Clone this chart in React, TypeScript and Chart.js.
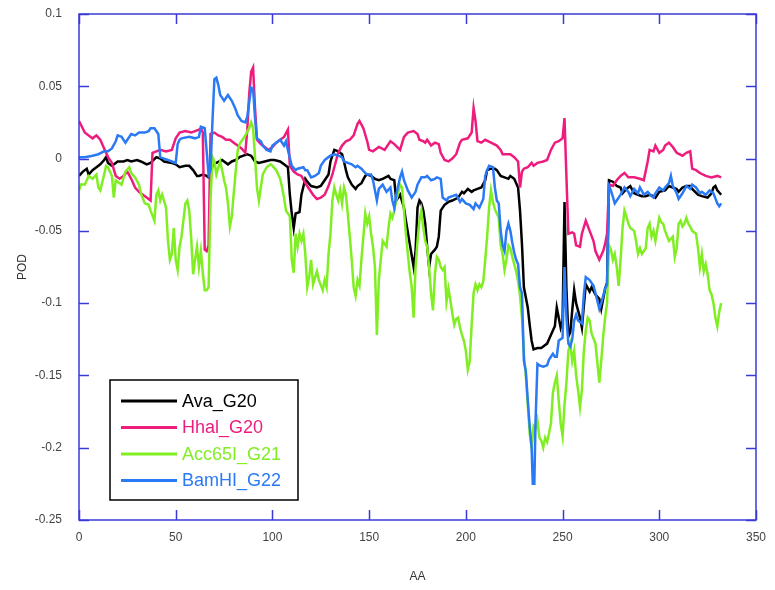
import { useEffect, useRef } from 'react';
import { Chart, registerables } from 'chart.js';

Chart.register(...registerables);

// ---------- data ----------
const X_TICKS = [0, 50, 100, 150, 200, 250, 300, 350];
const Y_TICKS = [0.1, 0.05, 0, -0.05, -0.1, -0.15, -0.2, -0.25];
const X_TITLE = 'AA';
const Y_TITLE = 'POD';

const SERIES_NAMES = ['Ava_G20', 'Hhal_G20', 'Acc65I_G21', 'BamHI_G22'];
const SERIES_COLORS = ['#000000', '#ee1d7d', '#80ee22', '#2a7af5'];

const avaG20: [number, number][] = [
  [0,-0.012],[2,-0.009],[4,-0.007],[5,-0.011],[7,-0.008],[9,-0.006],[11,-0.004],[13,-0.001],[14,0.001],[15,-0.003],
  [17,-0.005],[19,-0.003],[20,-0.002],[23,-0.002],[25,-0.001],[27,-0.002],[30,-0.001],[32,-0.002],[35,-0.004],[37,-0.003],
  [40,0.001],[42,0],[44,-0.002],[48,-0.003],[50,-0.004],[52,-0.006],[55,-0.005],[57,-0.005],[59,-0.008],[61,-0.012],
  [62,-0.012],[64,-0.011],[66,-0.012],[68,-0.014],[69,-0.004],[71,-0.003],[74,-0.001],[75,-0.002],[77,-0.004],[79,-0.002],
  [81,-0.001],[83,0.001],[85,0.002],[87,0.003],[89,0.002],[91,-0.002],[93,-0.003],[96,-0.002],[99,-0.001],[101,-0.001],
  [104,-0.002],[106,-0.004],[108,-0.006],[109,-0.025],[110,-0.038],[111,-0.048],[112,-0.038],[114,-0.037],[115,-0.025],[117,-0.014],
  [118,-0.016],[120,-0.019],[123,-0.02],[125,-0.019],[127,-0.015],[129,-0.011],[130,-0.002],[132,0.006],[134,0.005],[136,0.003],
  [137,-0.002],[138,-0.008],[139,-0.013],[141,-0.018],[143,-0.021],[144,-0.019],[146,-0.017],[148,-0.012],[149,-0.011],[151,-0.012],
  [153,-0.014],[155,-0.015],[157,-0.014],[160,-0.012],[161,-0.014],[163,-0.015],[164,-0.029],[166,-0.025],[168,-0.034],[169,-0.043],
  [171,-0.059],[173,-0.075],[174,-0.064],[175,-0.034],[176,-0.029],[177,-0.031],[178,-0.036],[179,-0.045],[180,-0.061],[181,-0.075],
  [182,-0.066],[184,-0.063],[185,-0.061],[186,-0.054],[187,-0.036],[189,-0.032],[191,-0.03],[193,-0.029],[196,-0.027],[198,-0.023],
  [199,-0.024],[201,-0.021],[203,-0.023],[204,-0.022],[206,-0.021],[208,-0.02],[210,-0.015],[211,-0.008],[213,-0.007],[215,-0.007],
  [216,-0.008],[218,-0.012],[220,-0.013],[222,-0.014],[223,-0.012],[225,-0.014],[227,-0.02],[228,-0.036],[229,-0.059],[230,-0.089],
  [232,-0.103],[233,-0.115],[234,-0.126],[235,-0.132],[237,-0.131],[239,-0.131],[240,-0.13],[242,-0.128],[243,-0.125],[245,-0.119],
  [246,-0.116],[247,-0.103],[248,-0.11],[249,-0.117],[250,-0.112],[251,-0.03],[252,-0.09],[253,-0.123],[254,-0.12],[255,-0.105],
  [256,-0.091],[257,-0.1],[259,-0.11],[260,-0.117],[262,-0.087],[264,-0.092],[265,-0.089],[267,-0.094],[269,-0.097],[270,-0.104],
  [271,-0.097],[272,-0.09],[273,-0.086],[274,-0.015],[276,-0.016],[278,-0.019],[280,-0.02],[281,-0.024],[283,-0.021],[285,-0.019],
  [287,-0.024],[289,-0.025],[291,-0.026],[293,-0.026],[295,-0.025],[297,-0.026],[298,-0.027],[300,-0.023],[303,-0.022],[305,-0.019],
  [307,-0.02],[309,-0.021],[310,-0.023],[312,-0.02],[314,-0.019],[316,-0.019],[317,-0.021],[320,-0.025],[322,-0.026],[325,-0.027],
  [327,-0.024],[328,-0.02],[329,-0.019],[330,-0.022],[332,-0.025],
];

const hhalG20: [number, number][] = [
  [0,0.026],[3,0.018],[5,0.016],[7,0.014],[9,0.016],[11,0.013],[13,0.007],[15,0.001],[17,-0.003],[19,-0.012],
  [21,-0.014],[23,-0.012],[25,-0.009],[27,-0.014],[29,-0.02],[31,-0.023],[33,-0.025],[35,-0.027],[37,-0.029],[38,0.004],
  [40,0.005],[42,0.006],[45,0.005],[48,0.006],[50,0.014],[52,0.018],[55,0.019],[58,0.018],[60,0.019],[62,0.02],
  [63,0.021],[64,0.018],[65,-0.063],[66,-0.064],[67,-0.06],[68,0.017],[70,0.018],[72,0.016],[74,0.015],[76,0.013],
  [78,0.013],[80,0.011],[82,0.009],[84,0.007],[86,0.004],[87,0.02],[88,0.045],[89,0.06],[90,0.063],[91,0.035],
  [92,0.013],[94,0.01],[96,0.008],[98,0.006],[100,0.008],[102,0.011],[104,0.013],[106,0.015],[108,0.02],[109,-0.005],
  [111,-0.009],[113,-0.011],[115,-0.012],[117,-0.017],[119,-0.021],[121,-0.025],[123,-0.028],[125,-0.027],[127,-0.025],[129,-0.019],
  [131,-0.011],[133,-0.001],[134,0.004],[136,0.009],[138,0.012],[140,0.013],[142,0.016],[144,0.024],[145,0.026],[147,0.021],
  [149,0.012],[150,0.006],[152,0.005],[155,0.008],[158,0.006],[161,0.012],[163,0.01],[166,0.006],[168,0.015],[170,0.018],
  [173,0.019],[175,0.017],[176,0.013],[178,0.012],[179,0.011],[180,0.013],[182,0.009],[184,0.011],[186,0.01],[187,0.004],
  [189,-0.001],[191,-0.002],[193,0],[195,0.003],[197,0.011],[198,0.013],[201,0.014],[203,0.018],[204,0.035],[205,0.026],
  [206,0.012],[208,0.011],[210,0.013],[213,0.011],[216,0.009],[218,0.006],[219,0.003],[221,0.003],[223,0.003],[225,0.001],
  [227,-0.002],[228,-0.02],[229,-0.009],[230,-0.007],[232,-0.006],[234,-0.003],[235,-0.005],[237,-0.003],[240,-0.002],[242,-0.001],
  [244,0.006],[246,0.011],[248,0.012],[250,0.014],[251,0.028],[252,-0.013],[253,-0.052],[255,-0.051],[256,-0.052],[257,-0.06],
  [259,-0.061],[260,-0.052],[262,-0.043],[264,-0.05],[266,-0.057],[267,-0.064],[269,-0.07],[271,-0.064],[272,-0.059],[273,-0.052],
  [274,-0.018],[276,-0.019],[278,-0.015],[280,-0.012],[282,-0.01],[284,-0.013],[287,-0.013],[290,-0.014],[292,-0.015],[294,-0.002],
  [295,0.006],[297,0.005],[298,0.009],[300,0.004],[302,0.006],[303,0.009],[305,0.011],[307,0.008],[309,0.004],[312,0.002],
  [314,0.004],[316,0.005],[317,-0.007],[319,-0.008],[321,-0.01],[324,-0.012],[327,-0.013],[330,-0.012],[332,-0.013],
];

const acc65iG21: [number, number][] = [
  [0,-0.022],[1,-0.018],[3,-0.018],[5,-0.012],[7,-0.014],[9,-0.011],[10,-0.02],[11,-0.022],[13,-0.011],[14,-0.005],
  [15,-0.006],[17,-0.012],[18,-0.027],[19,-0.015],[20,-0.016],[22,-0.018],[24,-0.009],[26,-0.006],[27,-0.01],[29,-0.013],
  [31,-0.018],[32,-0.024],[34,-0.031],[36,-0.032],[37,-0.036],[39,-0.043],[40,-0.025],[41,-0.022],[42,-0.029],[43,-0.025],
  [45,-0.034],[46,-0.057],[47,-0.07],[48,-0.066],[49,-0.048],[50,-0.07],[51,-0.077],[52,-0.061],[53,-0.054],[55,-0.031],
  [56,-0.029],[57,-0.036],[58,-0.055],[59,-0.08],[60,-0.07],[61,-0.061],[62,-0.075],[63,-0.064],[64,-0.079],[65,-0.091],
  [66,-0.091],[67,-0.089],[68,-0.029],[69,0.001],[70,-0.002],[71,-0.011],[72,-0.006],[73,-0.002],[74,-0.008],[75,-0.015],
  [76,-0.02],[77,-0.031],[78,-0.047],[79,-0.04],[80,-0.024],[81,-0.009],[82,0.005],[83,0.01],[84,0.012],[86,0.016],
  [88,0.021],[89,0.025],[90,0.021],[91,0.001],[92,-0.02],[93,-0.029],[94,-0.02],[95,-0.011],[97,-0.006],[99,-0.004],
  [100,-0.005],[102,-0.008],[104,-0.014],[105,-0.02],[106,-0.027],[107,-0.036],[109,-0.04],[110,-0.07],[111,-0.079],[112,-0.052],
  [113,-0.061],[114,-0.052],[115,-0.057],[116,-0.052],[117,-0.066],[118,-0.089],[119,-0.082],[120,-0.07],[121,-0.087],[123,-0.078],
  [124,-0.084],[126,-0.091],[127,-0.084],[128,-0.089],[129,-0.066],[130,-0.052],[131,-0.029],[132,-0.02],[133,-0.025],[134,-0.029],
  [135,-0.022],[136,-0.031],[137,-0.02],[138,-0.025],[139,-0.039],[140,-0.054],[141,-0.07],[142,-0.089],[143,-0.095],[144,-0.084],
  [145,-0.088],[146,-0.07],[147,-0.054],[148,-0.038],[149,-0.045],[150,-0.04],[151,-0.052],[152,-0.061],[153,-0.075],[154,-0.122],
  [155,-0.084],[156,-0.07],[157,-0.057],[159,-0.061],[160,-0.048],[161,-0.038],[162,-0.041],[163,-0.036],[164,-0.029],[165,-0.024],
  [166,-0.018],[167,-0.02],[168,-0.036],[169,-0.052],[170,-0.066],[171,-0.079],[172,-0.089],[173,-0.11],[174,-0.075],[175,-0.057],
  [176,-0.043],[177,-0.036],[178,-0.048],[179,-0.057],[180,-0.061],[181,-0.075],[182,-0.093],[183,-0.105],[184,-0.08],[185,-0.068],
  [186,-0.07],[187,-0.075],[188,-0.077],[189,-0.075],[190,-0.099],[191,-0.09],[192,-0.098],[193,-0.107],[194,-0.115],[195,-0.111],
  [196,-0.11],[197,-0.117],[198,-0.122],[199,-0.126],[200,-0.133],[201,-0.146],[202,-0.14],[203,-0.115],[204,-0.093],[205,-0.087],
  [206,-0.091],[207,-0.087],[208,-0.089],[209,-0.085],[210,-0.07],[211,-0.054],[212,-0.034],[213,-0.022],[214,-0.03],[215,-0.035],
  [217,-0.041],[218,-0.06],[219,-0.066],[220,-0.077],[221,-0.07],[222,-0.06],[223,-0.062],[224,-0.068],[226,-0.078],[227,-0.085],
  [228,-0.095],[229,-0.11],[230,-0.135],[231,-0.15],[232,-0.17],[233,-0.19],[234,-0.2],[235,-0.185],[236,-0.187],[237,-0.181],
  [238,-0.193],[239,-0.195],[240,-0.2],[241,-0.193],[242,-0.196],[243,-0.19],[244,-0.183],[245,-0.162],[246,-0.155],[247,-0.15],
  [248,-0.167],[249,-0.183],[250,-0.192],[251,-0.17],[252,-0.155],[253,-0.133],[254,-0.128],[255,-0.14],[256,-0.133],[257,-0.15],
  [258,-0.16],[259,-0.172],[260,-0.16],[261,-0.133],[262,-0.119],[263,-0.11],[264,-0.112],[265,-0.121],[267,-0.128],[269,-0.155],
  [270,-0.14],[271,-0.123],[272,-0.11],[273,-0.1],[274,-0.06],[275,-0.063],[276,-0.07],[277,-0.066],[278,-0.075],[279,-0.088],
  [280,-0.07],[281,-0.048],[282,-0.036],[283,-0.04],[284,-0.045],[285,-0.048],[287,-0.05],[288,-0.057],[289,-0.066],[290,-0.062],
  [291,-0.066],[293,-0.062],[294,-0.048],[295,-0.045],[296,-0.054],[297,-0.05],[298,-0.057],[300,-0.041],[301,-0.044],[302,-0.045],
  [303,-0.05],[305,-0.057],[307,-0.054],[308,-0.068],[309,-0.062],[310,-0.045],[311,-0.043],[312,-0.047],[313,-0.045],[314,-0.041],
  [315,-0.045],[316,-0.047],[317,-0.05],[319,-0.052],[320,-0.062],[321,-0.075],[322,-0.066],[323,-0.078],[324,-0.073],[325,-0.08],
  [326,-0.091],[327,-0.094],[328,-0.1],[329,-0.11],[330,-0.116],[331,-0.106],[332,-0.1],
];

const bamhiG22: [number, number][] = [
  [0,0.001],[3,0.001],[7,0.002],[10,0.003],[13,0.005],[15,0.005],[17,0.007],[19,0.012],[20,0.016],[22,0.015],
  [24,0.011],[25,0.013],[27,0.017],[29,0.016],[31,0.018],[34,0.018],[36,0.019],[37,0.021],[39,0.021],[41,0.017],
  [42,0.001],[44,0],[46,-0.001],[48,-0.002],[50,-0.003],[51,0.01],[52,0.013],[53,0.014],[57,0.015],[60,0.014],
  [62,0.015],[63,0.022],[65,0.021],[66,0.005],[67,-0.011],[68,-0.008],[69,0.026],[70,0.055],[71,0.056],[72,0.051],
  [73,0.044],[74,0.042],[75,0.04],[77,0.044],[79,0.04],[81,0.034],[82,0.03],[84,0.026],[86,0.025],[87,0.029],
  [88,0.039],[89,0.049],[90,0.048],[91,0.028],[92,0.014],[94,0.012],[95,0.009],[97,0.006],[99,0.005],[100,0.009],
  [102,0.011],[104,0.013],[106,0.009],[107,0.012],[108,0.006],[110,-0.005],[112,-0.008],[113,-0.007],[116,-0.006],[117,-0.008],
  [118,-0.008],[120,-0.013],[122,-0.012],[124,-0.01],[125,-0.005],[127,-0.001],[129,0.001],[130,0.002],[132,0.003],[134,0.002],
  [136,0.001],[137,-0.002],[139,-0.003],[141,-0.004],[143,-0.006],[144,-0.005],[146,-0.007],[148,-0.01],[149,-0.011],[151,-0.011],
  [152,-0.015],[153,-0.022],[154,-0.029],[155,-0.021],[157,-0.018],[159,-0.023],[161,-0.02],[162,-0.029],[163,-0.034],[164,-0.025],
  [166,-0.013],[167,-0.009],[168,-0.015],[170,-0.022],[172,-0.027],[174,-0.023],[175,-0.018],[177,-0.013],[179,-0.013],[180,-0.012],
  [182,-0.015],[184,-0.014],[185,-0.013],[187,-0.014],[188,-0.027],[190,-0.029],[191,-0.027],[193,-0.026],[195,-0.025],[197,-0.03],
  [198,-0.028],[200,-0.031],[202,-0.032],[204,-0.035],[205,-0.031],[207,-0.034],[209,-0.028],[210,-0.012],[211,-0.008],[212,-0.005],
  [214,-0.006],[215,-0.02],[216,-0.029],[217,-0.031],[218,-0.05],[219,-0.06],[220,-0.064],[221,-0.05],[222,-0.045],[223,-0.05],
  [224,-0.058],[225,-0.065],[226,-0.07],[227,-0.073],[228,-0.089],[229,-0.093],[230,-0.14],[231,-0.147],[232,-0.167],[233,-0.185],
  [234,-0.2],[234.6,-0.225],[235.4,-0.225],[236,-0.183],[237,-0.142],[238,-0.143],[240,-0.144],[242,-0.143],[243,-0.139],[245,-0.135],
  [246,-0.137],[247,-0.137],[248,-0.126],[250,-0.124],[251,-0.075],[252,-0.11],[253,-0.128],[254,-0.13],[255,-0.125],[256,-0.112],
  [257,-0.108],[258,-0.112],[260,-0.114],[261,-0.094],[262,-0.082],[264,-0.084],[266,-0.088],[267,-0.093],[269,-0.104],[270,-0.1],
  [272,-0.09],[273,-0.087],[274,-0.019],[275,-0.022],[277,-0.031],[278,-0.029],[280,-0.025],[282,-0.02],[284,-0.023],[285,-0.026],
  [287,-0.021],[289,-0.024],[290,-0.02],[292,-0.025],[294,-0.023],[296,-0.026],[297,-0.027],[298,-0.024],[300,-0.02],[302,-0.022],
  [303,-0.02],[305,-0.017],[306,-0.012],[307,-0.019],[309,-0.024],[310,-0.028],[312,-0.024],[314,-0.019],[316,-0.021],[317,-0.018],
  [319,-0.02],[321,-0.024],[322,-0.023],[324,-0.025],[326,-0.022],[328,-0.024],[330,-0.031],[331,-0.033],[332,-0.031],
];

const SERIES_DATA = [avaG20, hhalG20, acc65iG21, bamhiG22];
const SERIES_ORDER = [3, 2, 1, 0]; // later series drawn on top

// ---------- styles ----------
const AXIS_COLOR = '#3a3ad8';
const LABEL_COLOR = '#444444';
const FONT_FAMILY = '"Liberation Sans", Arial, Helvetica, sans-serif';

const framePlugin = {
  id: 'frameAndLegend',
  afterDatasetsDraw(chart: any) {
    const { ctx, chartArea: a, scales } = chart;
    ctx.save();
    // frame
    ctx.strokeStyle = AXIS_COLOR;
    ctx.lineWidth = 1.5;
    ctx.strokeRect(a.left, a.top, a.right - a.left, a.bottom - a.top);
    // inward tick marks
    ctx.beginPath();
    const tl = 10;
    for (const v of X_TICKS) {
      const x = Math.round(scales.x.getPixelForValue(v)) + 0.5;
      ctx.moveTo(x, a.bottom);
      ctx.lineTo(x, a.bottom - tl);
      ctx.moveTo(x, a.top);
      ctx.lineTo(x, a.top + tl);
    }
    for (const v of Y_TICKS) {
      const y = Math.round(scales.y.getPixelForValue(v)) + 0.5;
      ctx.moveTo(a.left, y);
      ctx.lineTo(a.left + tl, y);
      ctx.moveTo(a.right, y);
      ctx.lineTo(a.right - tl, y);
    }
    ctx.stroke();

    // legend box
    const bx = a.left + 31;
    const by = a.top + 366;
    const bw = 188;
    const bh = 120;
    ctx.fillStyle = '#ffffff';
    ctx.fillRect(bx, by, bw, bh);
    ctx.strokeStyle = '#000000';
    ctx.lineWidth = 1.5;
    ctx.strokeRect(bx, by, bw, bh);
    ctx.font = '18px ' + FONT_FAMILY;
    ctx.textBaseline = 'middle';
    ctx.textAlign = 'left';
    SERIES_NAMES.forEach((name, i) => {
      const y = by + 21 + i * 26.5;
      ctx.strokeStyle = SERIES_COLORS[i];
      ctx.lineWidth = 3;
      ctx.beginPath();
      ctx.moveTo(bx + 11, y);
      ctx.lineTo(bx + 67, y);
      ctx.stroke();
      ctx.fillStyle = SERIES_COLORS[i];
      ctx.fillText(name, bx + 72, y + 1);
    });
    ctx.restore();
  },
};

export default function App() {
  const canvasRef = useRef<HTMLCanvasElement | null>(null);

  useEffect(() => {
    document.body.style.margin = '0';
    const canvas = canvasRef.current;
    if (!canvas) return;

    const datasets = SERIES_NAMES.map((name, i) => ({
      label: name,
      data: SERIES_DATA[i].map(([x, y]) => ({ x, y })),
      borderColor: SERIES_COLORS[i],
      backgroundColor: SERIES_COLORS[i],
      borderWidth: 2.5,
      pointRadius: 0,
      tension: 0,
      fill: false,
      order: SERIES_ORDER[i],
    }));

    const chart = new Chart(canvas, {
      type: 'line',
      data: { datasets },
      options: {
        animation: false,
        responsive: false,
        maintainAspectRatio: false,
        events: [],
        layout: { padding: { left: 0, top: 14, right: 19, bottom: 0 } },
        plugins: {
          legend: { display: false },
          tooltip: { enabled: false },
        },
        scales: {
          x: {
            type: 'linear',
            min: 0,
            max: 350,
            afterBuildTicks: (s: any) => {
              s.ticks = X_TICKS.map((v) => ({ value: v }));
            },
            afterFit: (s: any) => {
              s.height = 70;
              s.paddingLeft = 0;
              s.paddingRight = 0;
              s.paddingTop = 0;
              s.paddingBottom = 0;
            },
            grid: { display: false, drawTicks: false },
            border: { display: false },
            ticks: {
              padding: 10,
              maxRotation: 0,
              autoSkip: false,
              color: LABEL_COLOR,
              font: { family: FONT_FAMILY, size: 12 },
              callback: (v: any) => String(v),
            },
            title: {
              display: true,
              text: X_TITLE,
              color: '#333333',
              font: { family: FONT_FAMILY, size: 12 },
              padding: { top: 0, bottom: 6 },
            },
          },
          y: {
            type: 'linear',
            min: -0.25,
            max: 0.1,
            afterBuildTicks: (s: any) => {
              s.ticks = Y_TICKS.map((v) => ({ value: v }));
            },
            afterFit: (s: any) => {
              s.width = 79;
              s.paddingLeft = 0;
              s.paddingRight = 0;
              s.paddingTop = 0;
              s.paddingBottom = 0;
            },
            grid: { display: false, drawTicks: false },
            border: { display: false },
            ticks: {
              padding: 17,
              autoSkip: false,
              color: LABEL_COLOR,
              font: { family: FONT_FAMILY, size: 12 },
              callback: (v: any) => String(Number(Number(v).toFixed(2))),
            },
            title: {
              display: true,
              text: Y_TITLE,
              color: '#333333',
              font: { family: FONT_FAMILY, size: 12 },
              padding: { top: 15, bottom: 0 },
            },
          },
        },
      },
      plugins: [framePlugin],
    });

    return () => chart.destroy();
  }, []);

  return (
    <div style={{ width: 775, height: 590 }}>
      <canvas ref={canvasRef} width={775} height={590} style={{ display: 'block' }} />
    </div>
  );
}
